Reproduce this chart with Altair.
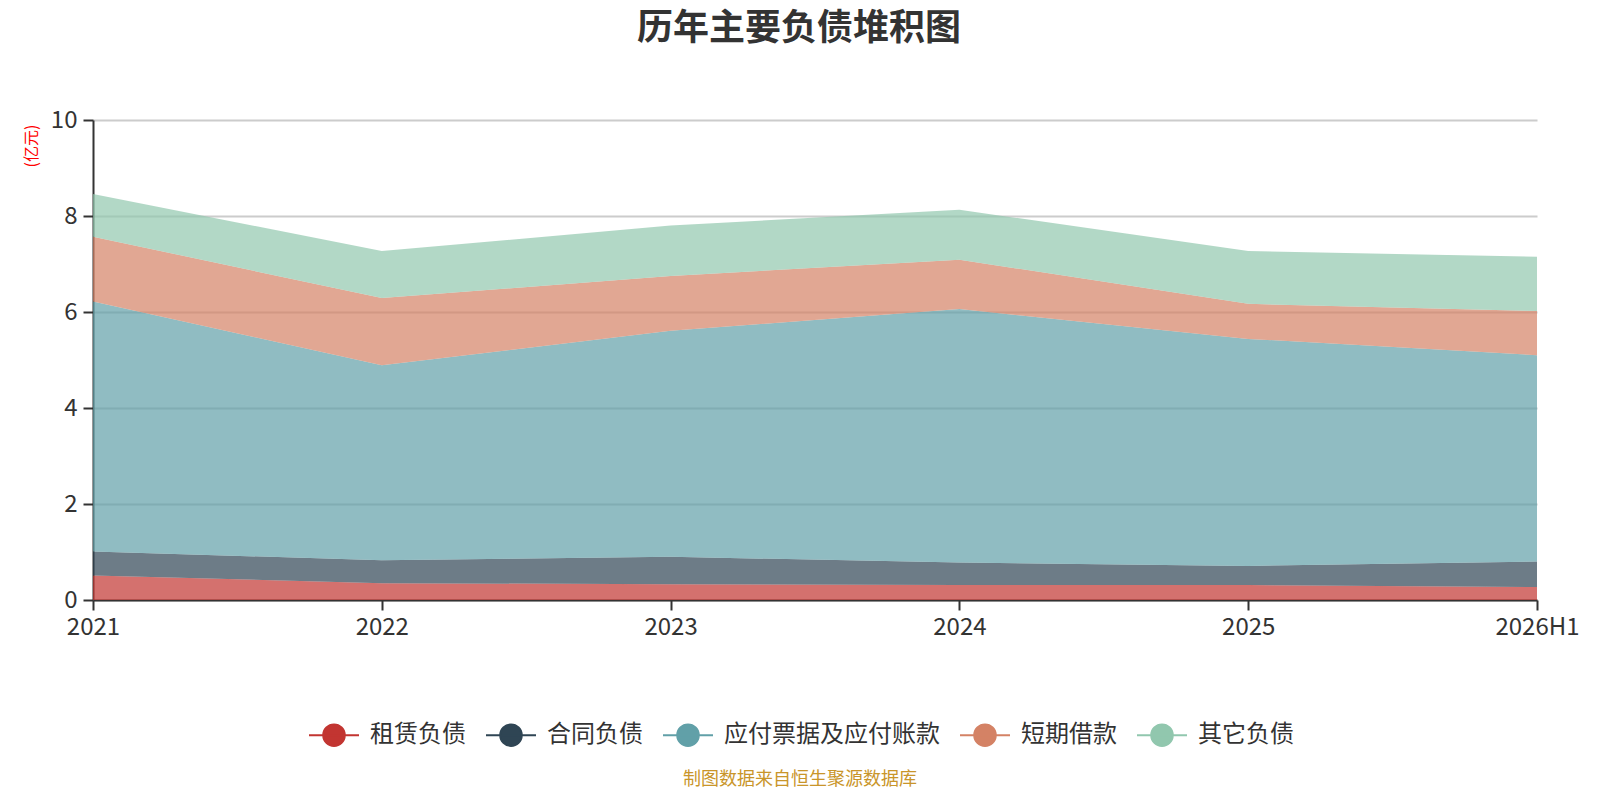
import altair as alt
import pandas as pd

years = ["2021", "2022", "2023", "2024", "2025", "2026H1"]
series = ["租赁负债", "合同负债", "应付票据及应付账款", "短期借款", "其它负债"]
colors = ["#c23531", "#2f4554", "#61a0a8", "#d48265", "#91c7ae"]

lease = [0.51, 0.35, 0.33, 0.31, 0.31, 0.27]
contract = [0.50, 0.48, 0.57, 0.47, 0.40, 0.53]
payables = [5.21, 4.06, 4.71, 5.28, 4.73, 4.30]
short_loans = [1.35, 1.40, 1.14, 1.03, 0.73, 0.92]
others = [0.89, 0.98, 1.05, 1.04, 1.10, 1.13]

title_text = "历年主要负债堆积图"
unit_text = "(亿元)"
footer_text = "制图数据来自恒生聚源数据库"

rows = []
for si, (name, vals) in enumerate(zip(series, [lease, contract, payables, short_loans, others])):
    for yr, v in zip(years, vals):
        rows.append({"year": yr, "series": name, "value": v, "idx": si})
df = pd.DataFrame(rows)

FONT = "Noto Sans CJK SC"
W, H = 1444, 480

legend_path = "M-1,0H1M0.43,0A0.43,0.43,0,1,1,-0.43,0A0.43,0.43,0,1,1,0.43,0Z"

color_scale = alt.Scale(domain=series, range=colors)
legend = alt.Legend(title=None, orient="none", direction="horizontal",
                    legendX=215, legendY=589,
                    symbolType=legend_path, symbolSize=2500,
                    symbolStrokeWidth=2, symbolOpacity=1,
                    labelFontSize=24, labelColor="#333", labelFont=FONT,
                    labelOffset=10, columnPadding=16, labelLimit=500)

areas = alt.Chart(df).mark_area(fillOpacity=0.7, strokeWidth=0).encode(
    x=alt.X("year:O", sort=years, scale=alt.Scale(type="point", padding=0),
            axis=alt.Axis(title=None, labelAngle=0, labelFontSize=24, labelColor="#333",
                          labelFont=FONT, domainColor="#333", domainWidth=2,
                          tickColor="#333", tickWidth=2, tickSize=10, labelPadding=5,
                          grid=False)),
    y=alt.Y("value:Q", stack="zero", scale=alt.Scale(domain=[0, 10], nice=False),
            axis=alt.Axis(values=[0, 2, 4, 6, 8, 10], title=unit_text, titleAngle=270,
                          titleX=-61.5, titleY=25.5, titleAlign="center",
                          titleBaseline="middle", titleFontSize=16, titleColor="red",
                          titleFontWeight="normal", titleFont=FONT,
                          labelFontSize=24, labelColor="#333", labelFont=FONT,
                          labelPadding=6, domainColor="#333", domainWidth=2,
                          tickColor="#333", tickWidth=2, tickSize=10,
                          grid=True, gridColor="#cccccc", gridWidth=2)),
    color=alt.Color("series:N", sort=series, scale=color_scale, legend=legend),
    stroke=alt.Stroke("series:N", sort=series, scale=color_scale, legend=legend),
    order=alt.Order("idx:Q", sort="ascending"),
)

footer = alt.Chart(pd.DataFrame({"t": [footer_text]})).mark_text(
    font=FONT, fontSize=18, color="#c9952a", align="center", baseline="middle"
).encode(x=alt.value(707), y=alt.value(660), text="t:N")

chart = alt.layer(areas, footer).properties(
    width=W, height=H,
    title=alt.TitleParams(title_text, font=FONT, fontSize=36, fontWeight="bold",
                          color="#333", anchor="middle", dx=-16, offset=60),
    autosize=alt.AutoSizeParams(type="none"),
    padding={"left": 85, "top": 112, "right": 55, "bottom": 192},
).configure_view(stroke=None)

chart.save("out.html", embed_options={"renderer": "svg", "actions": False})
